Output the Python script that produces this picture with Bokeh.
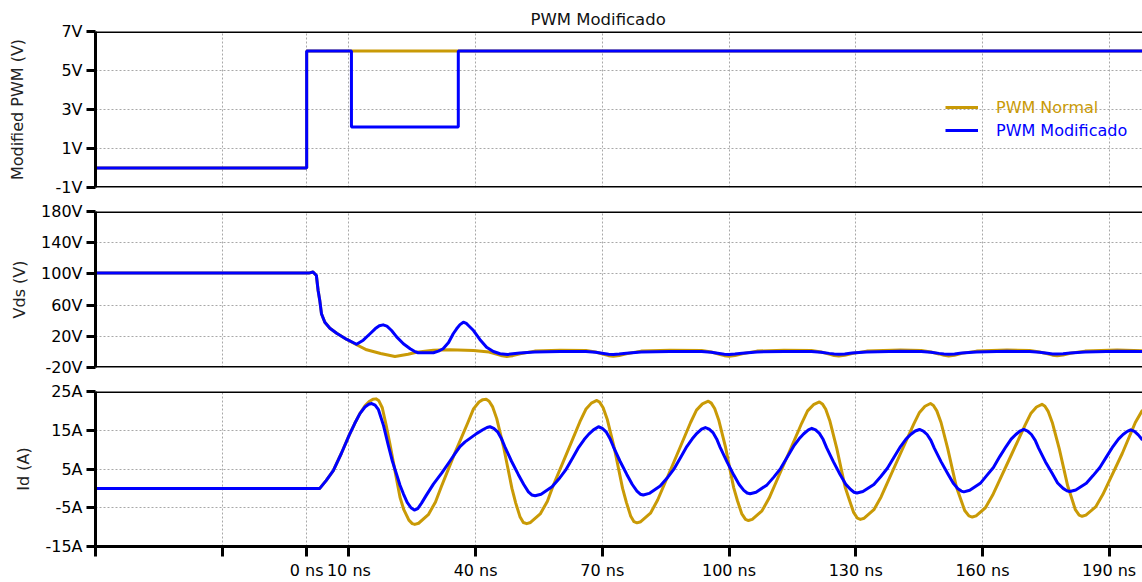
from bokeh.plotting import figure
from bokeh.layouts import column
from bokeh.models import Range1d, FixedTicker, Span, Grid, Legend, LegendItem
from bokeh.embed import file_html
from bokeh.resources import INLINE

FONT = "DejaVu Sans"
GOLD = "#C99A06"
BLUE = "#0000FF"
GRID = "#a8a8a8"

# ---------------- data (time in ns) ----------------
x_ticks = [-50, -20, 0, 10, 40, 70, 100, 130, 160, 190]
x_labels = ["", "", "0 ns", "10 ns", "40 ns", "70 ns", "100 ns", "130 ns", "160 ns", "190 ns"]

pwm_ticks = [-1, 1, 3, 5, 7]
pwm_labels = ["-1V", "1V", "3V", "5V", "7V"]
vds_ticks = [-20, 20, 60, 100, 140, 180]
vds_labels = ["-20V", "20V", "60V", "100V", "140V", "180V"]
id_ticks = [-15, -5, 5, 15, 25]
id_labels = ["-15A", "-5A", "5A", "15A", "25A"]

pwm_normal_t = [-50, 0, 0, 197.9]
pwm_normal_v = [0, 0, 6, 6]
pwm_mod_t = [-50, 0, 0, 10.6, 10.6, 35.9, 35.9, 197.9]
pwm_mod_v = [0, 0, 6, 6, 2.1, 2.1, 6, 6]

# (time ns, volts)
vds_normal = [(-50, 101), (0.5, 101), (1.5, 102.5), (2.3, 98), (2.7, 79), (3.1, 66),
              (3.5, 49), (4.3, 38), (5.5, 30.4), (7.1, 24), (9.5, 16), (11.7, 9.5),
              (14.2, 2.7), (17.5, -2), (20.9, -5.9), (24.0, -3.0), (26.0, -0.4),
              (30.0, 2.0), (33.9, 2.7), (39.5, 1.8), (43.2, -0.2), (45.1, -3.2),
              (46.3, -5.0), (47.4, -5.8), (48.8, -4.8), (50.5, -2.5), (54.0, 1.0),
              (60.0, 2.2), (66.1, 1.8), (68.4, -0.2), (70.3, -3.0), (71.5, -4.8),
              (72.6, -5.6), (74.0, -4.6), (75.7, -2.3), (79.2, 1.0), (86.0, 2.2),
              (93.5, 1.8), (95.8, -0.2), (97.7, -3.0), (98.9, -4.8), (100.0, -5.6),
              (101.4, -4.6), (103.1, -2.3), (106.6, 1.0), (113.0, 2.2), (119.5, 1.8),
              (121.8, -0.2), (123.7, -2.8), (124.9, -4.6), (126.0, -5.4), (127.4, -4.4),
              (129.1, -2.1), (132.6, 1.0), (140.6, 2.4), (145.5, 1.8), (147.8, -0.2),
              (149.7, -2.6), (150.9, -4.4), (152.0, -5.2), (153.4, -4.2), (155.1, -1.9),
              (158.6, 1.0), (165.8, 2.4), (171.2, 1.8), (173.5, -0.2), (175.4, -2.4),
              (176.6, -4.2), (177.7, -5.0), (179.1, -4.0), (180.8, -1.8), (184.3, 1.0),
              (191.9, 2.4), (197.9, 1.6)]

vds_mod = [(-50, 101), (0.5, 101), (1.5, 102.5), (2.3, 98), (2.7, 79), (3.1, 66),
           (3.5, 49), (4.3, 38), (5.5, 30.4), (7.1, 24), (9.5, 16), (11.8, 9.8),
           (13.4, 15.0), (15.0, 23.3), (16.2, 29.6), (17.2, 33.5), (18.1, 34.7),
           (19.0, 33.0), (20.1, 27.4), (21.3, 19.2), (22.9, 10.5), (24.5, 4.0),
           (25.5, 0.8), (26.4, -1.1), (30.0, -1.1), (31.2, 1.0), (32.3, 4.0),
           (33.6, 12.0), (34.7, 23.3), (35.5, 29.6), (36.3, 35.0), (37.1, 38.1),
           (37.8, 36.5), (38.3, 33.9), (39.5, 27.4), (41.0, 16.0), (42.6, 6.0),
           (44.2, 0.5), (45.8, -2.4), (47.6, -3.2), (50.5, -1.5), (54.0, 0.0),
           (60.0, 0.6), (66.1, 0.5), (68.4, -0.4), (70.3, -2.0), (71.5, -2.9),
           (72.6, -3.2), (74.0, -2.8), (75.7, -1.6), (79.2, 0.0), (86.0, 0.6),
           (93.5, 0.5), (95.8, -0.4), (97.7, -2.0), (98.9, -2.9), (100.0, -3.2),
           (101.4, -2.8), (103.1, -1.6), (106.6, 0.0), (113.0, 0.6), (119.5, 0.5),
           (121.8, -0.4), (123.7, -1.9), (124.9, -2.7), (126.0, -3.0), (127.4, -2.6),
           (129.1, -1.5), (132.6, 0.0), (140.6, 0.7), (145.5, 0.5), (147.8, -0.4),
           (149.7, -1.9), (150.9, -2.7), (152.0, -3.0), (153.4, -2.6), (155.1, -1.5),
           (158.6, 0.0), (165.8, 0.7), (171.2, 0.5), (173.5, -0.4), (175.4, -1.8),
           (176.6, -2.6), (177.7, -2.8), (179.1, -2.4), (180.8, -1.4), (184.3, 0.0),
           (191.9, 0.7), (197.9, 0.4)]

# (time ns, amperes)
id_normal = [(-50, 0), (3.1, 0), (4.6, 2.0), (6.3, 4.6), (8.2, 9.0), (10.1, 13.8),
             (11.4, 16.8), (12.6, 19.3), (13.8, 21.3), (14.8, 22.4), (15.7, 23.0),
             (16.4, 23.1), (17.1, 22.6), (17.9, 20.8), (18.8, 16.4), (19.7, 11.5),
             (21.0, 4.0), (22.1, -2.3), (23.0, -5.5), (24.2, -8.2), (25.0, -9.1),
             (25.6, -9.3), (26.5, -9.0), (28.8, -6.8), (30.5, -3.5), (31.9, 0.5),
             (35.0, 8.9), (38.1, 16.8), (39.5, 20.5), (40.8, 22.3), (41.7, 22.9),
             (42.5, 23.0), (43.2, 22.5), (44.0, 21.1), (45.0, 18.0), (46.6, 10.8),
             (48.6, 0.0), (49.5, -3.8), (50.5, -7.3), (51.3, -8.8), (52.1, -9.1),
             (53.0, -8.8), (55.3, -6.6), (57.0, -3.3), (58.4, 0.8), (61.6, 9.1),
             (64.7, 17.2), (66.1, 20.4), (67.4, 22.0), (68.7, 22.7), (69.4, 22.2),
             (70.2, 20.8), (71.2, 17.7), (72.8, 10.6), (74.8, 0.0), (75.7, -3.6),
             (76.7, -7.1), (77.5, -8.6), (78.2, -8.9), (79.1, -8.6), (81.4, -6.4),
             (83.1, -3.0), (84.6, 0.8), (87.8, 9.0), (90.9, 17.0), (92.3, 20.2),
             (93.7, 21.8), (95.1, 22.5), (95.8, 22.0), (96.6, 20.6), (97.6, 17.5),
             (99.2, 10.5), (101.1, 0.2), (102.0, -3.2), (103.0, -6.5), (103.9, -8.0),
             (104.6, -8.3), (105.5, -8.0), (107.8, -5.8), (109.5, -2.5), (110.9, 1.0),
             (114.1, 9.0), (117.2, 16.8), (118.6, 20.0), (120.0, 21.6), (121.4, 22.3),
             (122.1, 21.8), (122.9, 20.4), (123.9, 17.3), (125.5, 10.4), (127.5, 0.3),
             (128.5, -3.0), (129.5, -6.2), (130.4, -7.7), (131.1, -8.0), (132.0, -7.7),
             (134.3, -5.5), (136.0, -2.2), (137.4, 1.2), (140.6, 9.0), (143.7, 16.5),
             (145.1, 19.6), (146.4, 21.2), (147.7, 21.9), (148.4, 21.4), (149.2, 20.0),
             (150.2, 17.0), (151.8, 10.2), (153.8, 0.5), (154.8, -2.6), (155.8, -5.7),
             (156.8, -7.1), (157.6, -7.4), (158.5, -7.1), (160.7, -5.0), (162.4, -1.8),
             (163.8, 1.5), (167.0, 9.0), (170.1, 16.3), (171.5, 19.4), (172.8, 21.0),
             (174.1, 21.7), (174.8, 21.2), (175.6, 19.8), (176.6, 16.8), (178.2, 10.2),
             (180.2, 0.6), (181.1, -2.4), (182.0, -5.5), (182.9, -6.9), (183.6, -7.2),
             (184.5, -6.9), (186.8, -4.8), (188.5, -1.6), (189.9, 1.6), (193.1, 9.0),
             (196.2, 17.0), (197.9, 20.2)]

id_mod = [(-50, 0), (3.1, 0), (4.6, 2.0), (6.3, 4.6), (8.2, 9.0), (10.1, 13.8),
          (11.4, 16.8), (12.6, 19.3), (13.8, 21.0), (14.7, 21.7), (15.4, 21.9),
          (16.2, 21.5), (17.0, 20.3), (18.2, 16.2), (19.3, 11.2), (20.3, 7.0),
          (21.3, 3.6), (22.1, 0.8), (22.9, -1.4), (23.8, -3.6), (24.7, -5.0),
          (25.5, -5.6), (26.3, -5.2), (27.2, -3.8), (28.2, -2.0), (30.0, 1.1),
          (32.0, 4.0), (33.9, 7.0), (35.2, 9.1), (36.3, 10.8), (37.5, 12.0),
          (38.9, 13.1), (40.3, 14.2), (41.8, 15.2), (42.7, 15.7), (43.4, 15.9),
          (44.3, 15.5), (45.2, 14.6), (46.1, 12.9), (46.9, 10.8), (48.5, 7.0),
          (50.1, 3.6), (51.4, 1.0), (52.5, -0.9), (53.3, -1.7), (54.1, -1.9),
          (55.5, -1.5), (58.1, 0.4), (59.7, 2.4), (61.3, 4.7), (62.9, 7.7),
          (64.4, 10.6), (65.7, 12.6), (66.8, 14.0), (67.9, 15.1), (69.1, 15.9),
          (70.0, 15.5), (70.9, 14.6), (71.8, 12.9), (72.6, 10.8), (74.2, 7.0),
          (75.8, 3.6), (77.1, 1.0), (78.2, -0.7), (79.0, -1.5), (79.7, -1.7),
          (81.1, -1.3), (83.7, 0.6), (85.3, 2.6), (86.9, 4.9), (88.5, 7.9),
          (90.0, 10.8), (91.3, 12.8), (92.4, 14.2), (93.5, 15.3), (94.4, 15.7),
          (95.3, 15.3), (96.2, 14.4), (97.1, 12.7), (97.9, 10.6), (99.5, 6.9),
          (101.1, 3.5), (102.4, 1.0), (103.5, -0.5), (104.3, -1.2), (105.0, -1.4),
          (106.4, -1.0), (109.0, 0.9), (110.6, 2.9), (112.2, 5.1), (113.8, 8.1),
          (115.3, 10.9), (116.6, 12.8), (117.7, 14.1), (118.8, 15.1), (119.6, 15.5),
          (120.5, 15.1), (121.4, 14.2), (122.3, 12.6), (123.1, 10.5), (124.7, 6.9),
          (126.3, 3.6), (127.6, 1.1), (128.8, -0.3), (129.6, -1.0), (130.3, -1.2),
          (131.7, -0.8), (134.3, 1.0), (135.9, 3.0), (137.5, 5.2), (139.1, 8.1),
          (140.6, 10.8), (141.9, 12.7), (143.0, 13.9), (144.1, 14.8), (145.1, 15.2),
          (146.0, 14.8), (146.9, 13.9), (147.8, 12.4), (148.6, 10.4), (150.2, 6.9),
          (151.8, 3.8), (153.1, 1.3), (154.2, -0.1), (155.0, -0.7), (155.6, -0.9),
          (157.0, -0.5), (159.5, 1.3), (161.0, 3.3), (162.6, 5.4), (164.1, 8.2),
          (165.6, 10.8), (166.8, 12.7), (167.9, 13.9), (168.9, 14.8), (169.8, 15.2),
          (170.7, 14.8), (171.6, 13.9), (172.5, 12.4), (173.3, 10.4), (174.9, 6.9),
          (176.5, 3.9), (177.8, 1.4), (179.1, 0.0), (180.0, -0.6), (180.7, -0.8),
          (182.1, -0.4), (184.6, 1.3), (186.2, 3.3), (187.8, 5.4), (189.4, 8.2),
          (190.9, 10.8), (192.2, 12.7), (193.3, 13.9), (194.3, 14.7), (195.1, 15.1),
          (196.0, 14.7), (196.9, 13.8), (197.9, 12.5)]


def split(pairs):
    return [a for a, _ in pairs], [b for _, b in pairs]


# ---------------- figures ----------------
xr = Range1d(-50, 197.9)


def make_fig(height, yr, yticks, ylabels, ylabel, top, bottom, standoff, with_xaxis):
    p = figure(width=1142, height=height, x_range=xr, y_range=Range1d(*yr),
               output_backend="svg", toolbar_location=None,
               x_axis_location="below" if with_xaxis else None,
               min_border_left=95, min_border_right=0,
               min_border_top=top, min_border_bottom=bottom)
    p.outline_line_color = None
    for g in p.grid:
        g.visible = False
    p.add_layout(Grid(dimension=0, ticker=FixedTicker(ticks=x_ticks),
                      grid_line_color=GRID, grid_line_dash="2 2", grid_line_width=1))
    p.add_layout(Grid(dimension=1, ticker=FixedTicker(ticks=yticks),
                      grid_line_color=GRID, grid_line_dash="2 2", grid_line_width=1))
    ax = p.yaxis[0]
    ax.ticker = FixedTicker(ticks=yticks)
    ax.major_label_overrides = {t: l for t, l in zip(yticks, ylabels)}
    ax.minor_tick_line_color = None
    ax.major_tick_in = 0
    ax.major_tick_out = 9
    ax.major_tick_line_width = 3
    ax.axis_line_width = 3
    ax.major_label_text_font = FONT
    ax.major_label_text_font_size = "16px"
    ax.major_label_text_color = "black"
    ax.major_label_standoff = 4
    ax.axis_label = ylabel
    ax.axis_label_text_font = FONT
    ax.axis_label_text_font_size = "16px"
    ax.axis_label_text_font_style = "normal"
    ax.axis_label_text_color = "#222222"
    ax.axis_label_standoff = standoff
    p.add_layout(Span(location=yr[1], dimension="width", line_color="black", line_width=3))
    if not with_xaxis:
        p.add_layout(Span(location=yr[0], dimension="width", line_color="black", line_width=3))
    else:
        xa = p.xaxis[0]
        xa.ticker = FixedTicker(ticks=x_ticks)
        xa.major_label_overrides = {t: l for t, l in zip(x_ticks, x_labels)}
        xa.minor_tick_line_color = None
        xa.major_tick_in = 0
        xa.major_tick_out = 10
        xa.major_tick_line_width = 3
        xa.axis_line_width = 3
        xa.major_label_text_font = FONT
        xa.major_label_text_font_size = "16px"
        xa.major_label_text_color = "black"
        xa.major_label_standoff = 4
    return p


p1 = make_fig(199, (-1, 7), pwm_ticks, pwm_labels, "Modified PWM (V)", 31, 12, 26, False)
p1.title.text = "PWM Modificado"
p1.title.align = "left"
p1.title.offset = 435
p1.title.text_font = FONT
p1.title.text_font_size = "16.5px"
p1.title.text_font_style = "normal"
p1.title.text_color = "#111111"
p1.title.standoff = 5

r_pn = p1.line(pwm_normal_t, pwm_normal_v, line_color=GOLD, line_width=3)
r_pm = p1.line(pwm_mod_t, pwm_mod_v, line_color=BLUE, line_width=3)

for rend, lab, col, y in [(r_pn, "PWM Normal", GOLD, 70), (r_pm, "PWM Modificado", BLUE, 47)]:
    leg = Legend(items=[LegendItem(label=lab, renderers=[rend])], location=(850, y),
                 glyph_width=33, glyph_height=20, label_height=20, label_standoff=18,
                 padding=0, margin=0, spacing=0, border_line_color=None,
                 background_fill_alpha=0, label_text_font=FONT,
                 label_text_font_size="16px", label_text_color=col)
    p1.add_layout(leg)

p2 = make_fig(180, (-20, 180), vds_ticks, vds_labels, "Vds (V)", 12, 12, 9, False)
t, v = split(vds_normal)
p2.line(t, v, line_color=GOLD, line_width=3, line_join="round")
t, v = split(vds_mod)
p2.line(t, v, line_color=BLUE, line_width=3, line_join="round")

p3 = make_fig(203, (-15, 25), id_ticks, id_labels, "Id (A)", 12, 34, 9, True)
t, v = split(id_normal)
p3.line(t, v, line_color=GOLD, line_width=3, line_join="round")
t, v = split(id_mod)
p3.line(t, v, line_color=BLUE, line_width=3, line_join="round")

layout = column(p1, p2, p3, spacing=0)
open("out.html", "w").write(file_html(layout, INLINE))
